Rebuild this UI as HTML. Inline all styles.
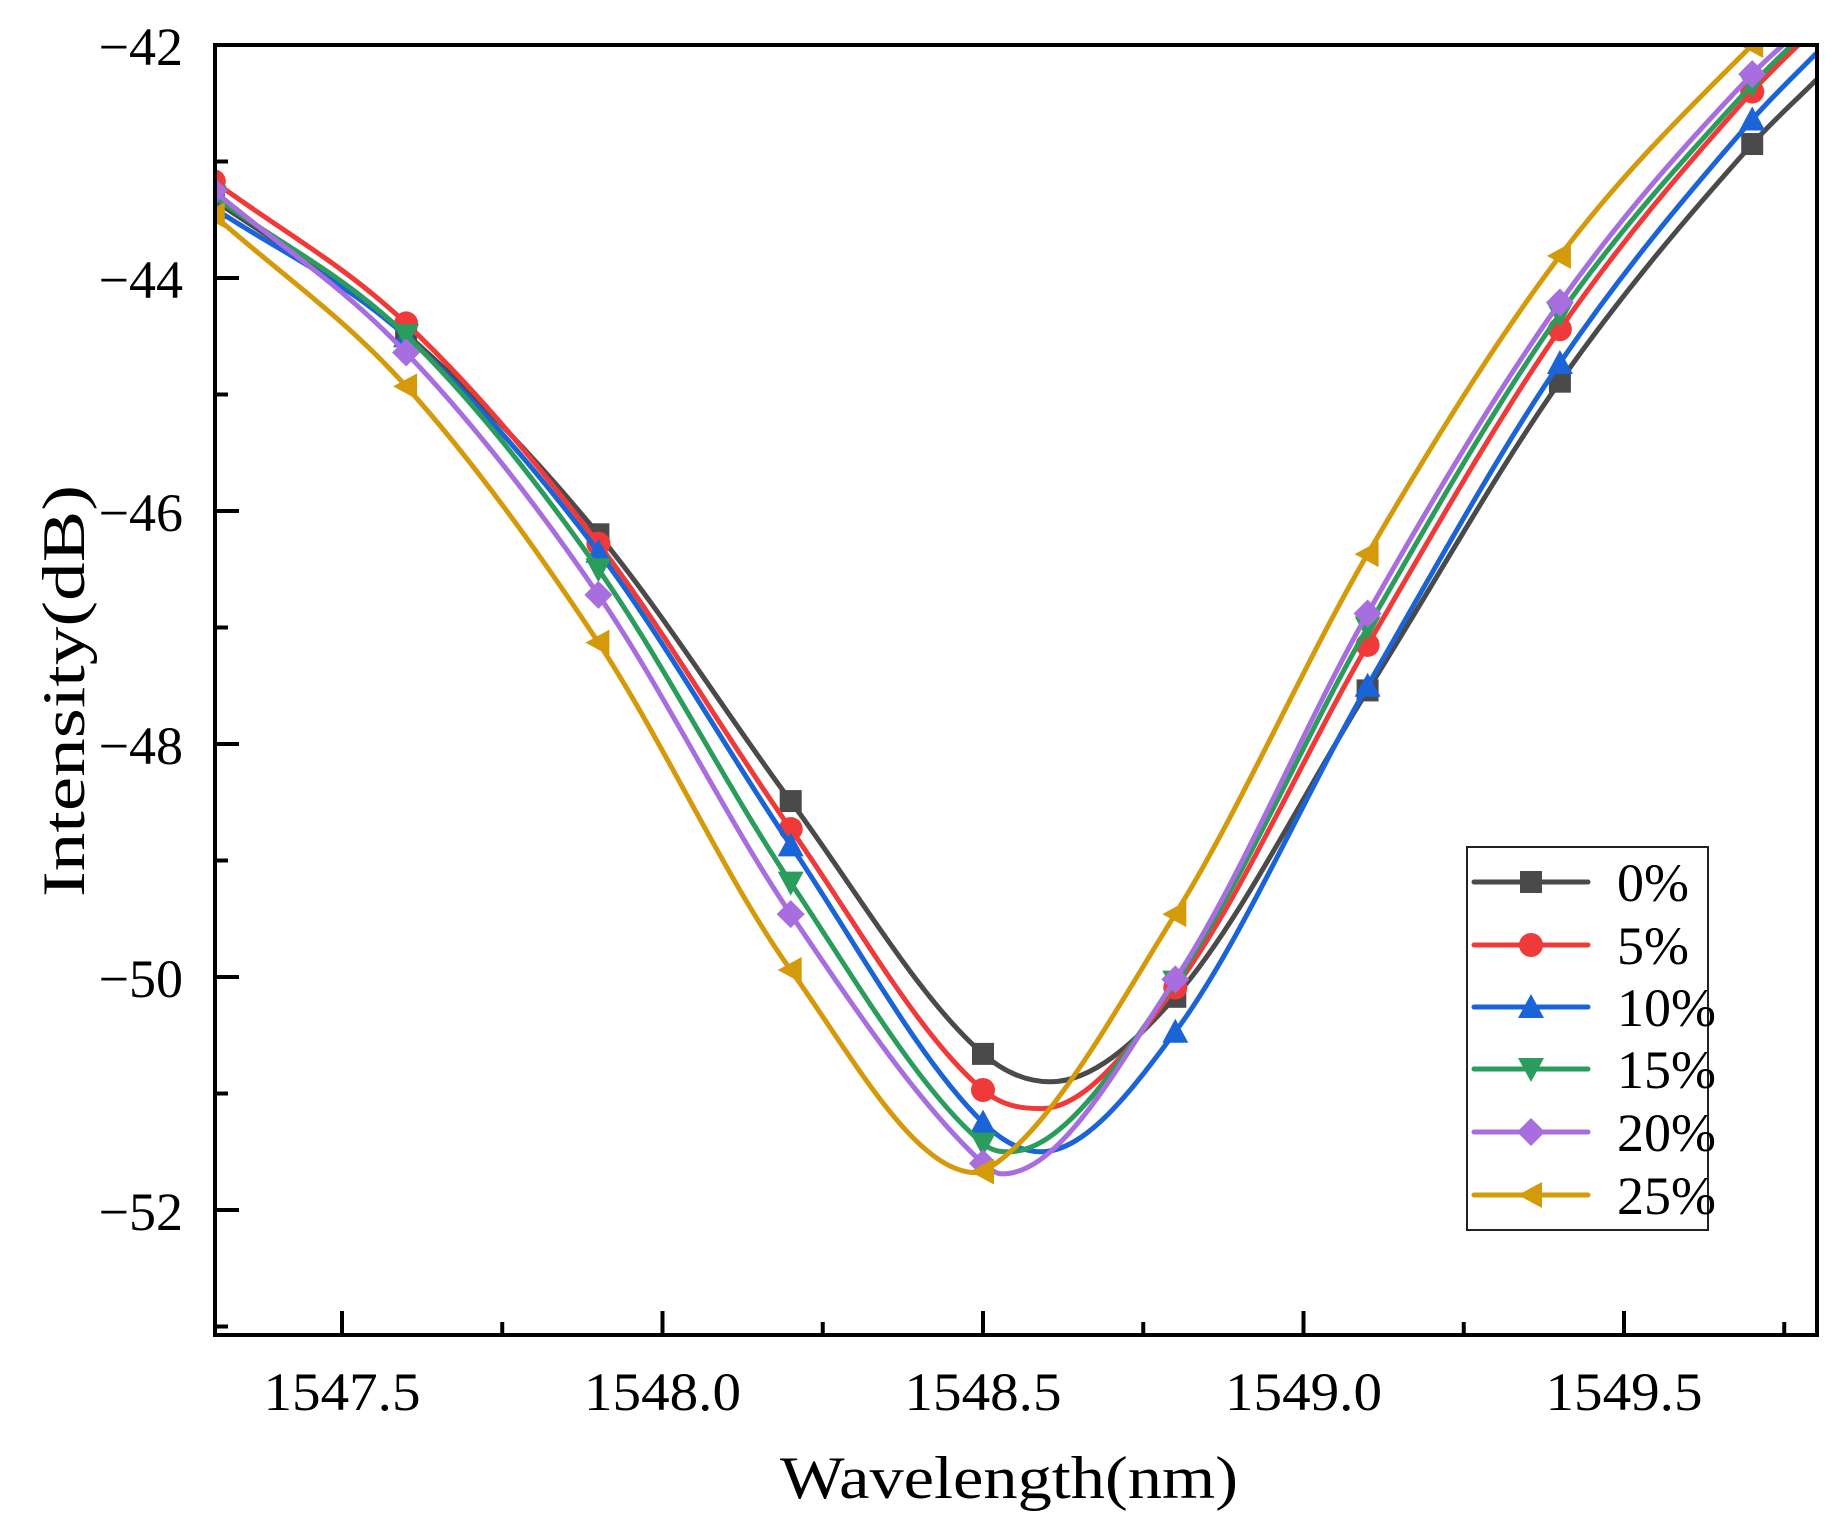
<!DOCTYPE html>
<html><head><meta charset="utf-8"><style>
html,body{margin:0;padding:0;background:#fff;}
svg{display:block;}
text{font-family:"Liberation Serif","Noto Serif CJK SC",serif;fill:#000;}
</style></head><body>
<svg id="chart" width="1832" height="1525" viewBox="0 0 1832 1525" xmlns="http://www.w3.org/2000/svg">
<defs><clipPath id="plotclip"><rect x="215" y="45" width="1602" height="1290"/></clipPath></defs>
<g id="series" clip-path="url(#plotclip)"></g>
<g id="axes"></g>
<g id="legend"></g>
</svg>
<script>
const markerX = [1547.3,1547.6,1547.9,1548.2,1548.5,1548.8,1549.1,1549.4,1549.7];
const labels = ["0%","5%","10%","15%","20%","25%"];
const colors = ["#4a4a4a","#f03a3a","#1a64d8","#2a9d5c","#a86ee0","#d49a0a"];
const shapes = ["square","circle","up","down","diamond","left"];
const y0 = [-43.33,-44.48,-46.20,-48.49,-50.66,-50.17,-47.54,-44.89,-42.85];
const y5 = [-43.17,-44.39,-46.28,-48.73,-50.97,-50.09,-47.15,-44.44,-42.40];
const y10 = [-43.40,-44.50,-46.35,-48.87,-51.25,-50.47,-47.50,-44.73,-42.64];
const y15 = [-43.30,-44.49,-46.50,-49.19,-51.43,-50.04,-47.00,-44.31,-42.34];
const y20 = [-43.25,-44.64,-46.72,-49.46,-51.60,-50.02,-46.88,-44.21,-42.25];
const y25 = [-43.46,-44.93,-47.13,-49.94,-51.67,-49.46,-46.37,-43.81,-42.00];
const minX = [1548.605,1548.59,1548.59,1548.54,1548.53,1548.49];
const minY = [-50.90,-51.13,-51.50,-51.50,-51.69,-51.68];
const endY = [-42.30,-41.85,-42.07,-41.80,-41.75,-41.50];
const xTicks = [1547.5,1548.0,1548.5,1549.0,1549.5];
const xTickLabels = ["1547.5","1548.0","1548.5","1549.0","1549.5"];
const yTicks = [-42,-44,-46,-48,-50,-52];
const yTickLabels = ["\u221242","\u221244","\u221246","\u221248","\u221250","\u221252"];
const allY = [y0,y5,y10,y15,y20,y25];

const NS="http://www.w3.org/2000/svg";
function X(v){return 342+(v-1547.5)*641;}
function Y(v){return 45+(-42-v)*116.5;}
function mk(tag,attrs,parent){const e=document.createElementNS(NS,tag);for(const k in attrs)e.setAttribute(k,attrs[k]);parent.appendChild(e);return e;}

function monotone(xs,ys){
  const n=xs.length,d=[],m=[];
  for(let i=0;i<n-1;i++)d.push((ys[i+1]-ys[i])/(xs[i+1]-xs[i]));
  m[0]=d[0];m[n-1]=d[n-2];
  for(let i=1;i<n-1;i++){m[i]=(d[i-1]*d[i]<=0)?0:(d[i-1]+d[i])/2;}
  for(let i=0;i<n-1;i++){if(d[i]===0){m[i]=m[i+1]=0;continue;}const a=m[i]/d[i],b=m[i+1]/d[i],s=a*a+b*b;if(s>9){const t=3/Math.sqrt(s);m[i]=t*a*d[i];m[i+1]=t*b*d[i];}}
  let p="M"+X(xs[0]).toFixed(1)+","+Y(ys[0]).toFixed(1);
  for(let i=0;i<n-1;i++){const h=xs[i+1]-xs[i];
    p+=" C"+X(xs[i]+h/3).toFixed(1)+","+Y(ys[i]+m[i]*h/3).toFixed(1)+" "+X(xs[i+1]-h/3).toFixed(1)+","+Y(ys[i+1]-m[i+1]*h/3).toFixed(1)+" "+X(xs[i+1]).toFixed(1)+","+Y(ys[i+1]).toFixed(1);}
  return p;
}
function marker(shape,cx,cy,color,parent){
  const r=11;let e;
  if(shape==="square")e=mk("rect",{x:cx-r,y:cy-r,width:2*r,height:2*r,fill:color},parent);
  else if(shape==="circle")e=mk("circle",{cx:cx,cy:cy,r:r+1,fill:color},parent);
  else{let pts;
    if(shape==="up")pts=[[cx,cy-r-2],[cx+r+2,cy+r],[cx-r-2,cy+r]];
    else if(shape==="down")pts=[[cx,cy+r+2],[cx+r+2,cy-r],[cx-r-2,cy-r]];
    else if(shape==="diamond")pts=[[cx,cy-r-3],[cx+r+3,cy],[cx,cy+r+3],[cx-r-3,cy]];
    else pts=[[cx-r-2,cy],[cx+r,cy-r-2],[cx+r,cy+r+2]];
    e=mk("polygon",{points:pts.map(p=>p.join(",")).join(" "),fill:color},parent);}
  return e;
}
const sg=document.getElementById("series");
for(let s=0;s<6;s++){
  const g=mk("g",{},sg);
  
  
  const pts=markerX.map((x,i)=>[x,allY[s][i]]);
  pts.push([minX[s],minY[s]]);pts.push([1549.80,endY[s]]);
  pts.sort((a,b)=>a[0]-b[0]);
  const ln=mk("path",{d:monotone(pts.map(p=>p[0]),pts.map(p=>p[1])),fill:"none",stroke:colors[s],"stroke-width":5,"stroke-linejoin":"round"},g);
  
  
  markerX.forEach((x,i)=>{
    const m=marker(shapes[s],X(x),Y(allY[s][i]),colors[s],g);
    
    
  });
}
const ax=document.getElementById("axes");
const frame=mk("rect",{x:215,y:45,width:1602,height:1290,fill:"none",stroke:"#000","stroke-width":4},ax);


xTicks.forEach((v,i)=>{
  const t=mk("line",{x1:X(v),x2:X(v),y1:1335,y2:1311,stroke:"#000","stroke-width":4},ax);
  
  
  const mv=v+0.25;
  if(X(mv)<1815){const mt=mk("line",{x1:X(mv),x2:X(mv),y1:1335,y2:1322,stroke:"#000","stroke-width":4},ax);
    
    }
  const tx=mk("text",{x:X(v),y:1410,"font-size":54,"text-anchor":"middle",textLength:157,lengthAdjust:"spacingAndGlyphs"},ax);
  tx.textContent=xTickLabels[i];
  
  
});
yTicks.forEach((v,i)=>{
  const t=mk("line",{x1:215,x2:239,y1:Y(v),y2:Y(v),stroke:"#000","stroke-width":4},ax);
  
  
  const mt=mk("line",{x1:215,x2:228,y1:Y(v-1),y2:Y(v-1),stroke:"#000","stroke-width":4},ax);
  
  
  const tx=mk("text",{x:183,y:Y(v)+20,"font-size":54,"text-anchor":"end"},ax);
  tx.textContent=yTickLabels[i];
  
  
});
const xt=mk("text",{x:1009,y:1498,"font-size":60,"text-anchor":"middle",textLength:458,lengthAdjust:"spacingAndGlyphs"},ax);
xt.textContent="Wavelength(nm)";


const yt=mk("text",{x:0,y:0,"font-size":60,"text-anchor":"middle",textLength:412,lengthAdjust:"spacingAndGlyphs",transform:"translate(84,691) rotate(-90)"},ax);
yt.textContent="Intensity(dB)";



const lg=document.getElementById("legend");
mk("rect",{x:1467,y:847,width:241,height:383,fill:"#fff",stroke:"#222","stroke-width":2},lg);
const rowY=[882,945,1007,1069,1132,1195];
labels.forEach((lab,s)=>{
  const g=mk("g",{},lg);
  
  
  mk("line",{x1:1474,x2:1588,y1:rowY[s],y2:rowY[s],stroke:colors[s],"stroke-width":5,"stroke-linecap":"round"},g);
  marker(shapes[s],1531,rowY[s],colors[s],g);
  const t=mk("text",{x:1617,y:rowY[s]+19,"font-size":54},g);
  t.textContent=lab;
});
</script>
</body></html>
